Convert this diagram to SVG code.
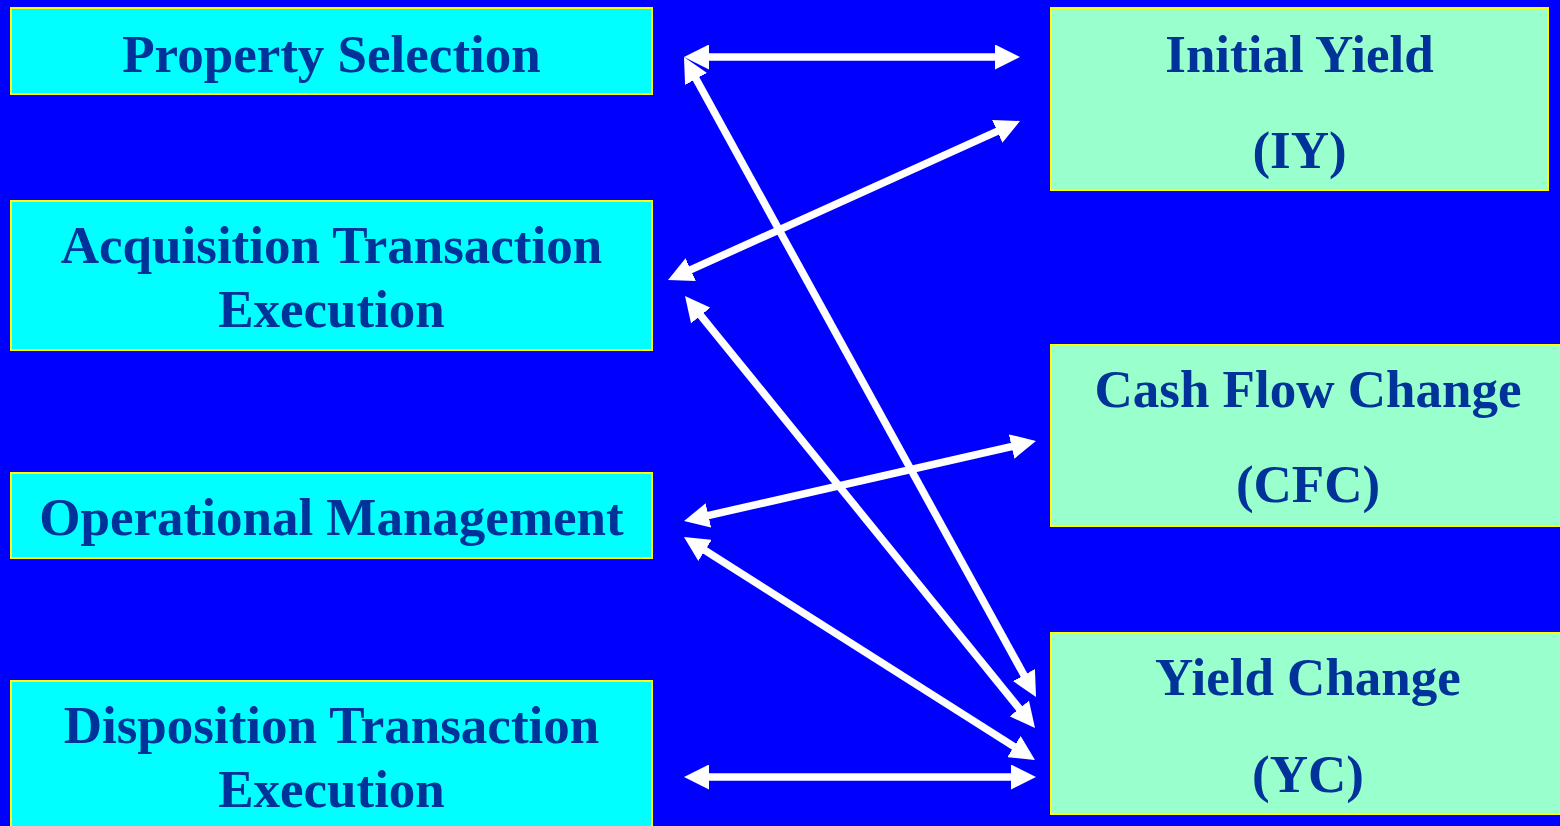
<svg xmlns="http://www.w3.org/2000/svg" width="1560" height="826" viewBox="0 0 1560 826">
<style>
.left{fill:#00FFFF;stroke:#FFFF00;stroke-width:2}
.right{fill:#99FFCC;stroke:#FFFF00;stroke-width:2}
.t{font-family:"Liberation Serif","Times New Roman",serif;font-weight:bold;font-size:53px;fill:#003399;text-anchor:middle}
.c{stroke:#FFFFFF;stroke-width:7.5;fill:none;marker-start:url(#ah);marker-end:url(#ah)}
</style>
<defs>
<marker id="ah" markerUnits="userSpaceOnUse" markerWidth="25" markerHeight="25" refX="15" refY="12.5" orient="auto-start-reverse" viewBox="0 0 25 25">
<path d="M0,0 L25,12.5 L0,25 z" fill="#FFFFFF"/>
</marker>
</defs>
<rect width="1560" height="826" fill="#0000FF"/>
<g id="property-selection">
<rect class="left" x="11" y="8" width="641" height="86"/>
<text class="t" x="331.5" y="72">Property Selection</text>
</g>
<g id="acquisition">
<rect class="left" x="11" y="201" width="641" height="149"/>
<text class="t" x="331.5" y="263">Acquisition Transaction</text>
<text class="t" x="331.5" y="327">Execution</text>
</g>
<g id="operational">
<rect class="left" x="11" y="473" width="641" height="85"/>
<text class="t" x="331.5" y="535">Operational Management</text>
</g>
<g id="disposition">
<rect class="left" x="11" y="681" width="641" height="160"/>
<text class="t" x="331.5" y="743">Disposition Transaction</text>
<text class="t" x="331.5" y="807">Execution</text>
</g>
<g id="initial-yield">
<rect class="right" x="1051" y="8" width="497" height="182"/>
<text class="t" x="1299.5" y="72">Initial Yield</text>
<text class="t" x="1299.5" y="168">(IY)</text>
</g>
<g id="cash-flow-change">
<rect class="right" x="1051" y="345" width="514" height="181"/>
<text class="t" x="1308" y="407">Cash Flow Change</text>
<text class="t" x="1308" y="502">(CFC)</text>
</g>
<g id="yield-change">
<rect class="right" x="1051" y="633" width="514" height="181"/>
<text class="t" x="1308" y="695">Yield Change</text>
<text class="t" x="1308" y="792">(YC)</text>
</g>
<g id="connectors">
<line class="c" x1="694" y1="57" x2="1010" y2="57"/>
<line class="c" x1="677.1" y1="275.9" x2="1010.9" y2="125.1"/>
<line class="c" x1="688.8" y1="65.8" x2="1031.2" y2="688.2"/>
<line class="c" x1="691.3" y1="303.8" x2="1028.7" y2="720.2"/>
<line class="c" x1="693.8" y1="518.8" x2="1026.2" y2="443.2"/>
<line class="c" x1="692.4" y1="542.4" x2="1026.6" y2="754.6"/>
<line class="c" x1="694" y1="777" x2="1026" y2="777"/>
</g>
</svg>
